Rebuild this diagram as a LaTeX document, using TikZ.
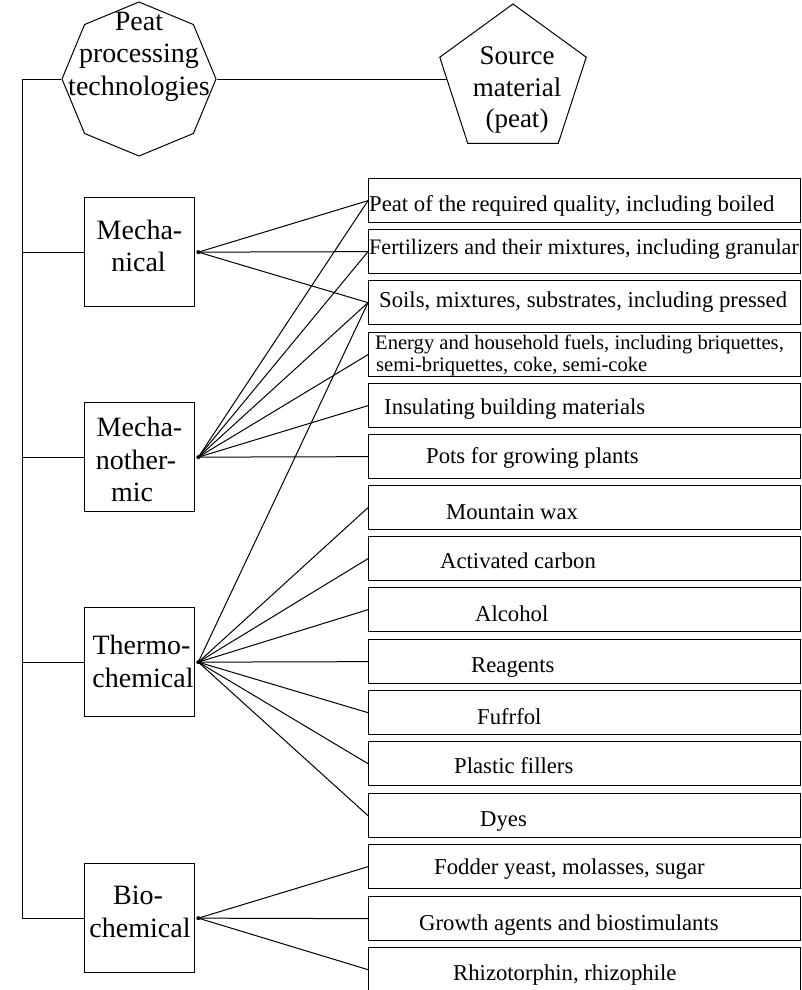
\documentclass[tikz,border=0pt]{standalone}
\usepackage{fontspec}
\setmainfont{Liberation Serif}
\usetikzlibrary{shapes.geometric}
\begin{document}
\begin{tikzpicture}[x=1pt,y=-1pt,
  box/.style={draw, line width=1.3pt, inner sep=0pt, anchor=north west},
  rbox/.style={box, minimum width=432pt, minimum height=44pt},
  lbox/.style={box, minimum width=110pt, minimum height=109pt},
  poly/.style={draw, regular polygon, inner sep=0pt, minimum size=154pt, line width=1pt},
  conn/.style={line width=1pt},
  rtxt/.style={anchor=base west, inner sep=0pt, font=\fontsize{22.7}{26}\selectfont},
  smtxt/.style={anchor=base west, inner sep=0pt, font=\fontsize{20.6}{23}\selectfont},
  ltxt/.style={anchor=base, inner sep=0pt, font=\fontsize{28}{32}\selectfont},
  ptxt/.style={anchor=base, inner sep=0pt, font=\fontsize{27}{32}\selectfont},
  fan/.style={circle, fill, inner sep=0pt, minimum size=4pt},
]
\useasboundingbox (0,0) rectangle (802,990);

% top shapes
\node[poly, regular polygon sides=8, shape border rotate=22.5] (oct) at (139,79) {};
\node[poly, regular polygon sides=5] (pent) at (513,81) {};
\node[ltxt] (o1) at (139,31) {Peat};
\node[ltxt] (o2) at (139,63) {processing};
\node[ltxt] (o3) at (139,95) {technologies};
\node[ptxt] (p1) at (517,64) {Source};
\node[ptxt] (p2) at (517,96) {material};
\node[ptxt] (p3) at (517,127) {(peat)};

% left boxes
\node[lbox] (mech) at (84,197) {};
\node[lbox] (mth) at (84,402) {};
\node[lbox] (thc) at (84,607) {};
\node[lbox] (bio) at (84,863) {};
\node[ltxt] (m1a) at (139.5,239) {Mecha-};
\node[ltxt] (m1b) at (138.5,271) {nical};
\node[ltxt] (m2a) at (139.5,436) {Mecha-};
\node[ltxt] (m2b) at (136,469) {nother-};
\node[ltxt] (m2c) at (132,501) {mic};
\node[ltxt] (m3a) at (141.5,654) {Thermo-};
\node[ltxt] (m3b) at (143,687) {chemical};
\node[ltxt] (m4a) at (138,904) {Bio-};
\node[ltxt] (m4b) at (140,937) {chemical};

% right boxes
\node[rbox] (r1) at (368,178) {};
\node[rbox] (r2) at (368,229) {};
\node[rbox] (r3) at (368,280) {};
\node[rbox] (r4) at (368,332) {};
\node[rbox] (r5) at (368,383) {};
\node[rbox] (r6) at (368,434) {};
\node[rbox] (r7) at (368,485) {};
\node[rbox] (r8) at (368,536) {};
\node[rbox] (r9) at (368,587) {};
\node[rbox] (r10) at (368,639) {};
\node[rbox] (r11) at (368,690) {};
\node[rbox] (r12) at (368,741) {};
\node[rbox] (r13) at (368,793) {};
\node[rbox] (r14) at (368,844) {};
\node[rbox] (r15) at (368,896) {};
\node[rbox] (r16) at (368,947) {};

\node[rtxt] (t1) at (369,211) {Peat of the required quality, including boiled};
\node[rtxt, font=\fontsize{22.1}{26}\selectfont] (t2) at (369,254) {Fertilizers and their mixtures, including granular};
\node[rtxt] (t3) at (379,307) {Soils, mixtures, substrates, including pressed};
\node[smtxt] (t4a) at (375,349) {Energy and household fuels, including briquettes,};
\node[smtxt] (t4b) at (376,371) {semi-briquettes, coke, semi-coke};
\node[rtxt] (t5) at (384,414) {Insulating building materials};
\node[rtxt] (t6) at (426,463) {Pots for growing plants};
\node[rtxt] (t7) at (446,519) {Mountain wax};
\node[rtxt] (t8) at (440,568) {Activated carbon};
\node[rtxt] (t9) at (475,621) {Alcohol};
\node[rtxt] (t10) at (471,672) {Reagents};
\node[rtxt] (t11) at (477,724) {Fufrfol};
\node[rtxt] (t12) at (454,773) {Plastic fillers};
\node[rtxt] (t13) at (480,826) {Dyes};
\node[rtxt] (t14) at (434,874) {Fodder yeast, molasses, sugar};
\node[rtxt] (t15) at (419,930) {Growth agents and biostimulants};
\node[rtxt] (t16) at (453,980) {Rhizotorphin, rhizophile};

% spine
\coordinate (sT) at (22,79);
\draw[conn] (oct.west) -- (sT) -- (sT |- bio.west) -- (bio.west);
\draw[conn] (sT |- mech.west) -- (mech.west);
\draw[conn] (sT |- mth.west) -- (mth.west);
\draw[conn] (sT |- thc.west) -- (thc.west);
\draw[conn] (oct.east) -- (oct.east -| pent.west);

% fan points
\node[fan] (f1) at ([xshift=3pt]mech.east) {};
\node[fan] (f2) at ([xshift=3pt]mth.east) {};
\node[fan] (f3) at ([xshift=3pt]thc.east) {};
\node[fan] (f4) at ([xshift=3pt]bio.east) {};

\foreach \r in {r1,r2,r3} \draw[conn] (f1.center) -- (\r.west);
\foreach \r in {r1,r2,r3,r4,r5,r6} \draw[conn] (f2.center) -- (\r.west);
\foreach \r in {r3,r7,r8,r9,r10,r11,r12,r13} \draw[conn] (f3.center) -- (\r.west);
\foreach \r in {r14,r15,r16} \draw[conn] (f4.center) -- (\r.west);
\end{tikzpicture}
\end{document}
